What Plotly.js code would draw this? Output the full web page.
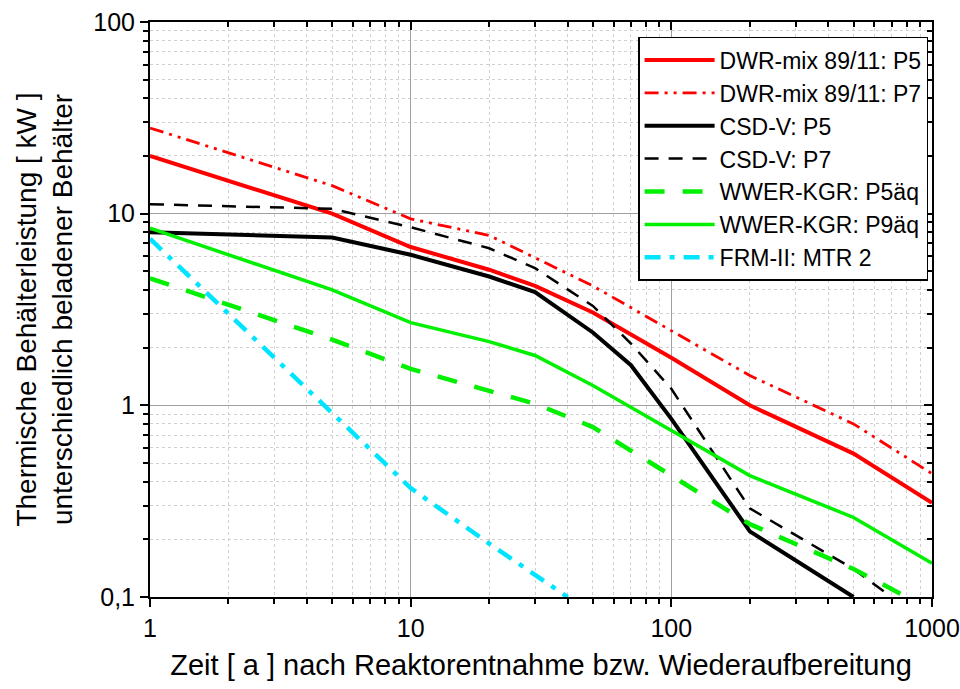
<!DOCTYPE html>
<html>
<head>
<meta charset="utf-8">
<script src="https://cdn.plot.ly/plotly-3.0.1.min.js"></script>
<style>html,body{margin:0;padding:0;background:#fff;}#chart{width:960px;height:689px;}</style>
</head>
<body>
<div id="chart"></div>
<script>
// Data (x: years, y: kW)
const seriesNames = ["DWR-mix 89/11: P5","DWR-mix 89/11: P7","CSD-V: P5","CSD-V: P7","WWER-KGR: P5äq","WWER-KGR: P9äq","FRM-II: MTR 2"];

const dwrP5Years = [1,5,10,20,30,50,100,200,500,1000];
const dwrP5Values = [20,10,6.7,5.1,4.2,3.05,1.77,1.0,0.56,0.31];

const dwrP7Years = [1,5,10,20,50,100,200,500,1000];
const dwrP7Values = [28,14,9.4,7.7,4.2,2.45,1.43,0.8,0.44];

const csdP5Years = [1,5,10,20,30,50,70,100,200,500];
const csdP5Values = [8,7.5,6.1,4.7,3.9,2.4,1.62,0.85,0.22,0.1];

const csdP7Years = [1,5,10,20,30,50,70,100,200,500,700];
const csdP7Values = [11.2,10.6,8.5,6.6,5.2,3.3,2.1,1.22,0.29,0.14,0.1];

const wwerP5Years = [1,5,10,20,30,50,100,200,500,800];
const wwerP5Values = [4.6,2.2,1.55,1.2,1.02,0.77,0.43,0.24,0.14,0.1];

const wwerP9Years = [1,5,10,20,30,50,100,200,500,1000];
const wwerP9Values = [8.4,4.0,2.7,2.15,1.82,1.27,0.74,0.43,0.26,0.15];

const frmYears = [1,5,10,20,40];
const frmValues = [7.4,0.9,0.37,0.19,0.1];

const xTitle = "Zeit [ a ] nach Reaktorentnahme bzw. Wiederaufbereitung";
const yTitle = "Thermische Behälterleistung [ kW ]<br>unterschiedlich beladener Behälter";

const FONT = 'Arial, "Liberation Sans", sans-serif';

function tr(name, x, y, color, width, dash) {
  return {x: x, y: y, name: name, type: 'scatter', mode: 'lines',
          line: {color: color, width: width, dash: dash}, cliponaxis: true};
}

const data = [
  tr(seriesNames[0], dwrP5Years, dwrP5Values, '#ff0000', 4, 'solid'),
  tr(seriesNames[1], dwrP7Years, dwrP7Values, '#ff0000', 2.8, '14px,6px,3px,6px,3px,6px'),
  tr(seriesNames[2], csdP5Years, csdP5Values, '#000000', 4, 'solid'),
  tr(seriesNames[3], csdP7Years, csdP7Values, '#000000', 2.5, '14px,10px'),
  tr(seriesNames[4], wwerP5Years, wwerP5Values, '#00f000', 4.5, '20px,18px'),
  tr(seriesNames[5], wwerP9Years, wwerP9Values, '#00f000', 3.5, 'solid'),
  tr(seriesNames[6], frmYears, frmValues, '#00e5ff', 4.5, '16px,9px,5px,9px'),
  {x: [], y: [], xaxis: 'x2', yaxis: 'y2', showlegend: false, type: 'scatter', mode: 'lines', hoverinfo: 'skip'}
];

const axisCommon = {
  type: 'log', showline: true, linecolor: '#000', linewidth: 2,
  ticks: 'outside', ticklen: 8, tickwidth: 2, tickcolor: '#000',
  dtick: 1, showgrid: true, gridcolor: '#a0a0a0', gridwidth: 1.3,
  zeroline: false,
  tickfont: {family: FONT, size: 25, color: '#000'},
  minor: {dtick: 'D1', ticks: 'outside', ticklen: 5, tickwidth: 2, tickcolor: '#000',
          showgrid: true, gridcolor: '#d0d0d0', griddash: 'dot', gridwidth: 1}
};

const layout = {
  width: 960, height: 689,
  paper_bgcolor: '#fff', plot_bgcolor: '#fff',
  separators: ',.',
  margin: {l: 150, r: 28, t: 22, b: 92},
  font: {family: FONT, color: '#000'},
  showlegend: true,
  legend: {
    x: 0.995, xanchor: 'right', y: 0.974, yanchor: 'top',
    bgcolor: '#fff', bordercolor: '#000', borderwidth: 1.5,
    font: {family: FONT, size: 23, color: '#000'},
    itemwidth: 70, tracegroupgap: 0
  },
  xaxis: Object.assign({}, axisCommon, {
    range: [0, 3],
    title: {text: xTitle, font: {family: FONT, size: 29, color: '#000'}, standoff: 14}
  }),
  yaxis: Object.assign({}, axisCommon, {
    range: [-1, 2],
    title: {text: yTitle, font: {family: FONT, size: 28, color: '#000'}, standoff: 12}
  }),
  xaxis2: {
    type: 'log', range: [0, 3], overlaying: 'x', side: 'top', anchor: 'y2',
    showline: true, linecolor: '#000', linewidth: 2,
    ticks: 'inside', ticklen: 8, tickwidth: 2, tickcolor: '#000', dtick: 1,
    showticklabels: false, showgrid: false, zeroline: false,
    minor: {dtick: 'D1', ticks: 'inside', ticklen: 5, tickwidth: 2, tickcolor: '#000', showgrid: false}
  },
  yaxis2: {
    type: 'log', range: [-1, 2], overlaying: 'y', side: 'right', anchor: 'x2',
    showline: true, linecolor: '#000', linewidth: 2,
    ticks: 'inside', ticklen: 8, tickwidth: 2, tickcolor: '#000', dtick: 1,
    showticklabels: false, showgrid: false, zeroline: false,
    minor: {dtick: 'D1', ticks: 'inside', ticklen: 5, tickwidth: 2, tickcolor: '#000', showgrid: false}
  }
};

Plotly.newPlot('chart', data, layout, {displayModeBar: false, staticPlot: true});
</script>
</body>
</html>
